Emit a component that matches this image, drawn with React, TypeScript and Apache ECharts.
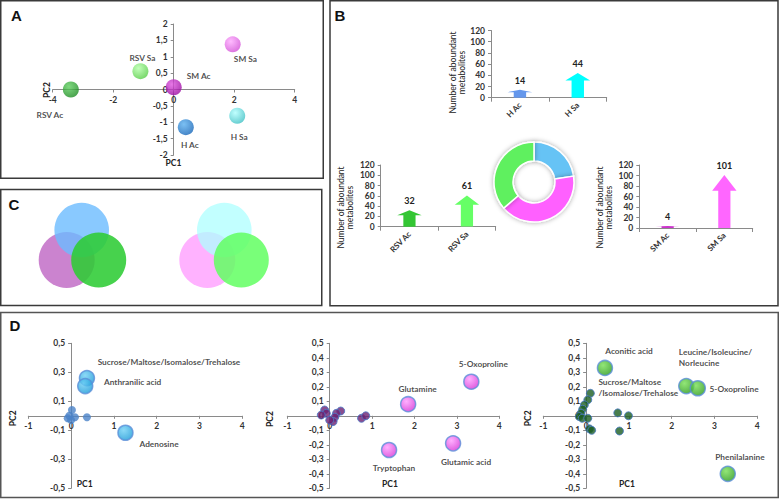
import React, { useEffect, useRef } from "react";
import * as echarts from "echarts";

// ---------- Panel A: PCA of groups ----------
const pcaGroups = ["RSV Ac", "RSV Sa", "SM Ac", "SM Sa", "H Sa", "H Ac"];
const pcaPC1 = [-3.4, -1.1, 0.0, 1.95, 2.1, 0.4];
const pcaPC2 = [0.0, 0.56, 0.07, 1.38, -0.8, -1.15];

// ---------- Panel B: abundant metabolites ----------
const hCats = ["H Ac", "H Sa"];
const hVals = [14, 44];
const rsvCats = ["RSV Ac", "RSV Sa"];
const rsvVals = [32, 61];
const smCats = ["SM Ac", "SM Sa"];
const smVals = [4, 101];
const donutNames = ["H", "SM", "RSV"];
const donutVals = [58, 105, 93];
const barTicks = [0, 120, 20]; // min, max, interval

// ---------- Panel D: metabolite loadings ----------
const d1Names = ["Sucrose/Maltose/Isomalose/Trehalose", "Anthranilic acid", "Adenosine"];
const d1X = [0.37, 0.33, 1.27];
const d1Y = [0.26, 0.205, -0.117];
const d1MinorX = [0.02, -0.04, 0.09, -0.08, 0.0, 0.37];
const d1MinorY = [0.04, 0.0, -0.01, -0.017, -0.03, -0.01];

const d2Names = ["5-Oxoproline", "Glutamine", "Glutamic acid", "Tryptophan"];
const d2X = [3.34, 1.85, 2.91, 1.4];
const d2Y = [0.235, 0.08, -0.19, -0.236];
const d2MinorX = [-0.12, -0.08, -0.2, 0.26, 0.16, 0.12, 0.08, 0.0, 0.75, 0.85];
const d2MinorY = [0.04, 0.017, 0.005, 0.033, 0.017, -0.01, -0.04, -0.03, -0.017, 0.0];

const d3Names = ["Aconitic acid", "Leucine/Isoleucine/\nNorleucine", "5-Oxoproline", "Phenilalanine"];
const d3X = [0.44, 2.34, 2.61, 3.31];
const d3Y = [0.33, 0.205, 0.19, -0.4];
const d3MinorNames = ["Sucrose/Maltose\n/Isomalose/Trehalose", "", "", "", "", "", "", "", "", "", "", "", ""];
const d3MinorX = [0.1, 0.04, -0.04, -0.08, -0.12, -0.16, -0.09, 0.04, 0.08, 0.13, 0.74, 0.99, 0.78];
const d3MinorY = [0.155, 0.11, 0.075, 0.045, 0.017, -0.005, -0.017, -0.017, -0.09, -0.1, 0.02, 0.0, -0.105];

const aXRange = [-4, 4, 2];
const aYRange = [-2, 2, 0.5];
const dXRange = [-1, 4, 1];
const dYRange = [-0.5, 0.5, 0.1];
const dYTicksSparse = [-0.5, -0.3, -0.1, 0.1, 0.3, 0.5];

// ---------- styles (kept apart from data) ----------
const pcaColors: Record<string, [string, string]> = {
  "RSV Ac": ["#5fd05f", "#1c8a22"],
  "RSV Sa": ["#b4ffa8", "#55cc44"],
  "SM Ac": ["#e055e0", "#9a0aa0"],
  "SM Sa": ["#ffaaff", "#d24fd6"],
  "H Sa": ["#b0ffff", "#3fc0c4"],
  "H Ac": ["#5ab0f0", "#1565b8"],
};
type LP = { dx: number; dy: number; align: "left" | "center" };
const labelPlace: Record<string, LP> = {
  "RSV Ac": { dx: -21, dy: 25.5, align: "center" },
  "RSV Sa": { dx: 2, dy: -12.7, align: "center" },
  "SM Ac": { dx: 25, dy: -11.6, align: "center" },
  "SM Sa": { dx: 12.7, dy: 14.4, align: "center" },
  "H Sa": { dx: 2, dy: 21, align: "center" },
  "H Ac": { dx: 4, dy: 17.7, align: "center" },
  "D1:Sucrose/Maltose/Isomalose/Trehalose": { dx: 10.7, dy: -16, align: "left" },
  "D1:Anthranilic acid": { dx: 18.7, dy: -4.3, align: "left" },
  "D1:Adenosine": { dx: 14, dy: 11.6, align: "left" },
  "D2:5-Oxoproline": { dx: 12, dy: -17.7, align: "center" },
  "D2:Glutamine": { dx: 9.5, dy: -15.3, align: "center" },
  "D2:Glutamic acid": { dx: 13, dy: 19, align: "center" },
  "D2:Tryptophan": { dx: 5, dy: 18.3, align: "center" },
  "D3:Aconitic acid": { dx: 0.3, dy: -16.6, align: "left" },
  "D3:Leucine/Isoleucine/\nNorleucine": { dx: -7.4, dy: -29, align: "left" },
  "D3:5-Oxoproline": { dx: 11.7, dy: 0.7, align: "left" },
  "D3:Phenilalanine": { dx: -12.6, dy: -17.3, align: "left" },
  "D3:Sucrose/Maltose\n/Isomalose/Trehalose": { dx: 8, dy: -6, align: "left" },
};
const hColors = ["#6497ec", "#00ffff"];
const rsvColors = ["#33c633", "#66ff66"];
const smColors = ["#cc33cc", "#ff66ff"];
const donutColors = ["#66c3f5", "#ff60ff", "#5ef05e"];

const FONT = "Lato, 'Noto Sans', sans-serif";
const AXIS_GRAY = "#8a8a8a";
const fmtComma = (v: number) => String(+Number(v).toFixed(2)).replace(".", ",");

const radial = (light: string, dark: string) =>
  new echarts.graphic.RadialGradient(0.38, 0.32, 0.72, [
    { offset: 0, color: light },
    { offset: 1, color: dark },
  ]);

const tickLabel = { fontFamily: FONT, fontSize: 8.5, fontWeight: "bold", color: "#333" };
const ptLabel = { fontFamily: FONT, fontSize: 8.3, fontWeight: "bold", color: "#222" };

type G = { left: number; top: number; width: number; height: number };
const grids: G[] = [
  { left: 52.7, top: 24, width: 242, height: 131 },
  { left: 491, top: 30.5, width: 115.7, height: 67.2 },
  { left: 380.7, top: 165, width: 115, height: 61.7 },
  { left: 639.3, top: 165, width: 113.4, height: 63 },
  { left: 28.3, top: 343.3, width: 214, height: 145 },
  { left: 287.3, top: 343.3, width: 212, height: 145 },
  { left: 543.3, top: 343.3, width: 214, height: 145 },
];

// axis crossing the other one at zero: shift with offset (labels follow)
function crossAxis(dim: "x" | "y", gridIndex: number, range: number[], other: number[], extra: any = {}) {
  const g = grids[gridIndex];
  const size = dim === "x" ? g.height : g.width;
  const frac = (0 - other[0]) / (other[1] - other[0]);
  return {
    type: "value",
    gridIndex,
    min: range[0],
    max: range[1],
    interval: range[2],
    position: dim === "x" ? "bottom" : "left",
    offset: -frac * size,
    axisLine: { show: true, onZero: false, lineStyle: { color: AXIS_GRAY, width: 1 } },
    axisTick: { show: true, length: 3, lineStyle: { color: AXIS_GRAY }, ...(extra.tick || {}) },
    axisLabel: { ...tickLabel, margin: 6, formatter: fmtComma, ...(extra.label || {}) },
    splitLine: { show: false },
  };
}

function catAxis(gridIndex: number, cats: string[]) {
  return {
    type: "category",
    gridIndex,
    data: cats,
    axisLine: { show: true, lineStyle: { color: AXIS_GRAY } },
    axisTick: { show: true, length: 4, alignWithLabel: false, lineStyle: { color: AXIS_GRAY } },
    axisLabel: { ...tickLabel, fontSize: 8, rotate: 45, margin: 6, interval: 0 },
    splitLine: { show: false },
  };
}

function barYAxis(gridIndex: number) {
  return {
    type: "value",
    gridIndex,
    min: barTicks[0],
    max: barTicks[1],
    interval: barTicks[2],
    axisLine: { show: true, lineStyle: { color: AXIS_GRAY, width: 1 } },
    axisTick: { show: true, length: 3, lineStyle: { color: AXIS_GRAY } },
    axisLabel: { ...tickLabel, margin: 6 },
    splitLine: { show: false },
  };
}

const ARROW = "path://M50,0 L100,30 L75,30 L75,100 L25,100 L25,30 L0,30 Z";

function arrowSeries(idx: number, cats: string[], vals: number[], colors: string[]) {
  return {
    type: "pictorialBar",
    xAxisIndex: idx,
    yAxisIndex: idx,
    symbol: ARROW,
    symbolKeepAspect: false,
    symbolSize: ["62%", "100%"],
    data: vals.map((v, i) => ({ value: v, name: cats[i], itemStyle: { color: colors[i] } })),
    label: { show: true, position: "top", distance: 5, ...ptLabel, fontSize: 9 },
  };
}

function placed(key: string, name: string) {
  const p = labelPlace[key];
  if (!p) return { show: false };
  return {
    show: true,
    position: "inside",
    formatter: name,
    offset: [p.dx, p.dy],
    align: p.align,
    verticalAlign: "middle",
    ...ptLabel,
    lineHeight: 11,
  };
}

function buildOption() {
  const pcaData = pcaGroups.map((g, i) => ({
    name: g,
    value: [pcaPC1[i], pcaPC2[i]],
    itemStyle: { color: radial(pcaColors[g][0], pcaColors[g][1]) },
    label: placed(g, g),
  }));

  const major = (prefix: string, names: string[], xs: number[], ys: number[], light: string, dark: string) =>
    names.map((n, i) => ({
      name: n,
      value: [xs[i], ys[i]],
      itemStyle: { color: radial(light, dark), borderColor: "#5b8fd8", borderWidth: 1.5 },
      label: placed(prefix + n, n),
    }));
  const minor = (prefix: string, names: string[] | null, xs: number[], ys: number[]) =>
    xs.map((x, i) => {
      const n = names ? names[i] : "";
      return { name: n, value: [x, ys[i]], label: n ? placed(prefix + n, n) : { show: false } };
    });

  const text = (t: string, x: number, y: number, o: any = {}) => ({
    type: "text",
    x,
    y,
    rotation: o.rotation || 0,
    z: 10,
    style: {
      text: t,
      font: o.font || `bold 8.5px ${FONT}`,
      fill: o.fill || "#222",
      textAlign: o.align || "center",
      textVerticalAlign: "middle",
      align: o.align || "center",
      verticalAlign: "middle",
      lineHeight: o.lineHeight || 10,
    },
  });
  const border = (x: number, y: number, w: number, h: number, stroke = "#3a3a3a") => ({
    type: "rect",
    shape: { x, y, width: w, height: h },
    z: 0,
    style: { fill: "none", stroke, lineWidth: 1.5 },
  });
  const circle = (cx: number, cy: number, r: number, fill: string, opacity: number) => ({
    type: "circle",
    shape: { cx, cy, r },
    z: 1,
    style: { fill, opacity },
  });

  const yName = "Number of aboundant\nmetabolites";
  const nameFont = `8.5px ${FONT}`;
  const sparse = { label: { customValues: dYTicksSparse }, tick: { customValues: dYTicksSparse } };

  return {
    animation: false,
    backgroundColor: "#fff",
    grid: grids.map((g) => ({ ...g, outerBoundsMode: "none", containLabel: false })),
    xAxis: [
      crossAxis("x", 0, aXRange, aYRange),
      catAxis(1, hCats),
      catAxis(2, rsvCats),
      catAxis(3, smCats),
      crossAxis("x", 4, dXRange, dYRange),
      crossAxis("x", 5, dXRange, dYRange),
      crossAxis("x", 6, dXRange, dYRange),
    ],
    yAxis: [
      crossAxis("y", 0, aYRange, aXRange),
      barYAxis(1),
      barYAxis(2),
      barYAxis(3),
      crossAxis("y", 4, dYRange, dXRange, sparse),
      crossAxis("y", 5, dYRange, dXRange),
      crossAxis("y", 6, dYRange, dXRange),
    ],
    series: [
      {
        type: "scatter",
        xAxisIndex: 0,
        yAxisIndex: 0,
        symbolSize: 16,
        data: pcaData,
      },
      arrowSeries(1, hCats, hVals, hColors),
      arrowSeries(2, rsvCats, rsvVals, rsvColors),
      arrowSeries(3, smCats, smVals, smColors),
      {
        type: "pie",
        center: [534, 182],
        radius: [21, 40],
        startAngle: 90,
        clockwise: true,
        label: { show: false },
        labelLine: { show: false },
        itemStyle: { borderColor: "#fff", borderWidth: 1.5, shadowBlur: 5, shadowColor: "rgba(0,0,0,0.35)" },
        data: donutNames.map((n, i) => ({ name: n, value: donutVals[i], itemStyle: { color: donutColors[i] } })),
      },
      {
        type: "scatter",
        xAxisIndex: 4,
        yAxisIndex: 4,
        symbolSize: 8,
        itemStyle: { color: "#4a82c8" },
        data: minor("D1:", null, d1MinorX, d1MinorY),
      },
      {
        type: "scatter",
        xAxisIndex: 4,
        yAxisIndex: 4,
        symbolSize: 15,
        data: major("D1:", d1Names, d1X, d1Y, "#6fd0f5", "#1a9ad8"),
      },
      {
        type: "scatter",
        xAxisIndex: 5,
        yAxisIndex: 5,
        symbolSize: 8,
        itemStyle: { color: "#6c2172", borderColor: "#4a7ac8", borderWidth: 1 },
        data: minor("D2:", null, d2MinorX, d2MinorY),
      },
      {
        type: "scatter",
        xAxisIndex: 5,
        yAxisIndex: 5,
        symbolSize: 15,
        data: major("D2:", d2Names, d2X, d2Y, "#ff9cff", "#d633d6"),
      },
      {
        type: "scatter",
        xAxisIndex: 6,
        yAxisIndex: 6,
        symbolSize: 8,
        itemStyle: { color: "#1b5e20", borderColor: "#4a7ac8", borderWidth: 1 },
        data: minor("D3:", d3MinorNames, d3MinorX, d3MinorY),
      },
      {
        type: "scatter",
        xAxisIndex: 6,
        yAxisIndex: 6,
        symbolSize: 15,
        data: major("D3:", d3Names, d3X, d3Y, "#77e055", "#2a9a1a"),
      },
    ],
    graphic: [
      border(0.75, 0.75, 322.5, 177.5),
      border(0.75, 189.5, 321, 116),
      border(330, 0.75, 448, 305),
      border(0.75, 312.5, 777.5, 185, "#555"),
      text("A", 16.5, 15, { font: "bold 15px 'Liberation Sans', Arial, sans-serif", fill: "#111" }),
      text("B", 340, 15, { font: "bold 15px 'Liberation Sans', Arial, sans-serif", fill: "#111" }),
      text("C", 14, 204, { font: "bold 15px 'Liberation Sans', Arial, sans-serif", fill: "#111" }),
      text("D", 15, 325, { font: "bold 15px 'Liberation Sans', Arial, sans-serif", fill: "#111" }),
      // axis names
      text("PC1", 173.5, 162.5),
      text("PC2", 46.5, 90, { rotation: Math.PI / 2 }),
      text("PC1", 84.7, 484),
      text("PC2", 13.3, 418.3, { rotation: Math.PI / 2 }),
      text("PC1", 390, 484),
      text("PC2", 270, 419, { rotation: Math.PI / 2 }),
      text("PC1", 627, 484),
      text("PC2", 528.3, 418.3, { rotation: Math.PI / 2 }),
      text(yName, 457.5, 72.5, { rotation: Math.PI / 2, font: nameFont, lineHeight: 9 }),
      text(yName, 345.8, 207.5, { rotation: Math.PI / 2, font: nameFont, lineHeight: 9 }),
      text(yName, 604.5, 207.5, { rotation: Math.PI / 2, font: nameFont, lineHeight: 9 }),
      // Venn diagrams (panel C)
      circle(66.7, 260, 28, "#c87ccc", 0.95),
      circle(81.7, 230, 27.3, "#6cbcff", 0.8),
      circle(98.7, 260, 27.5, "#2ecc34", 0.88),
      circle(207.3, 260, 28, "#ffaeff", 0.95),
      circle(224.3, 230, 27.3, "#aeffff", 0.75),
      circle(241.3, 260, 27.5, "#62ff62", 0.85),
    ],
  };
}

export default function App() {
  const ref = useRef<HTMLDivElement>(null);
  useEffect(() => {
    if (!ref.current) return;
    const chart = echarts.init(ref.current, null, { renderer: "svg", width: 779, height: 503 });
    chart.setOption(buildOption() as any);
    return () => chart.dispose();
  }, []);
  return (
    <div
      ref={ref}
      style={{ position: "absolute", left: 0, top: 0, width: 779, height: 503, background: "#fff" }}
    />
  );
}
